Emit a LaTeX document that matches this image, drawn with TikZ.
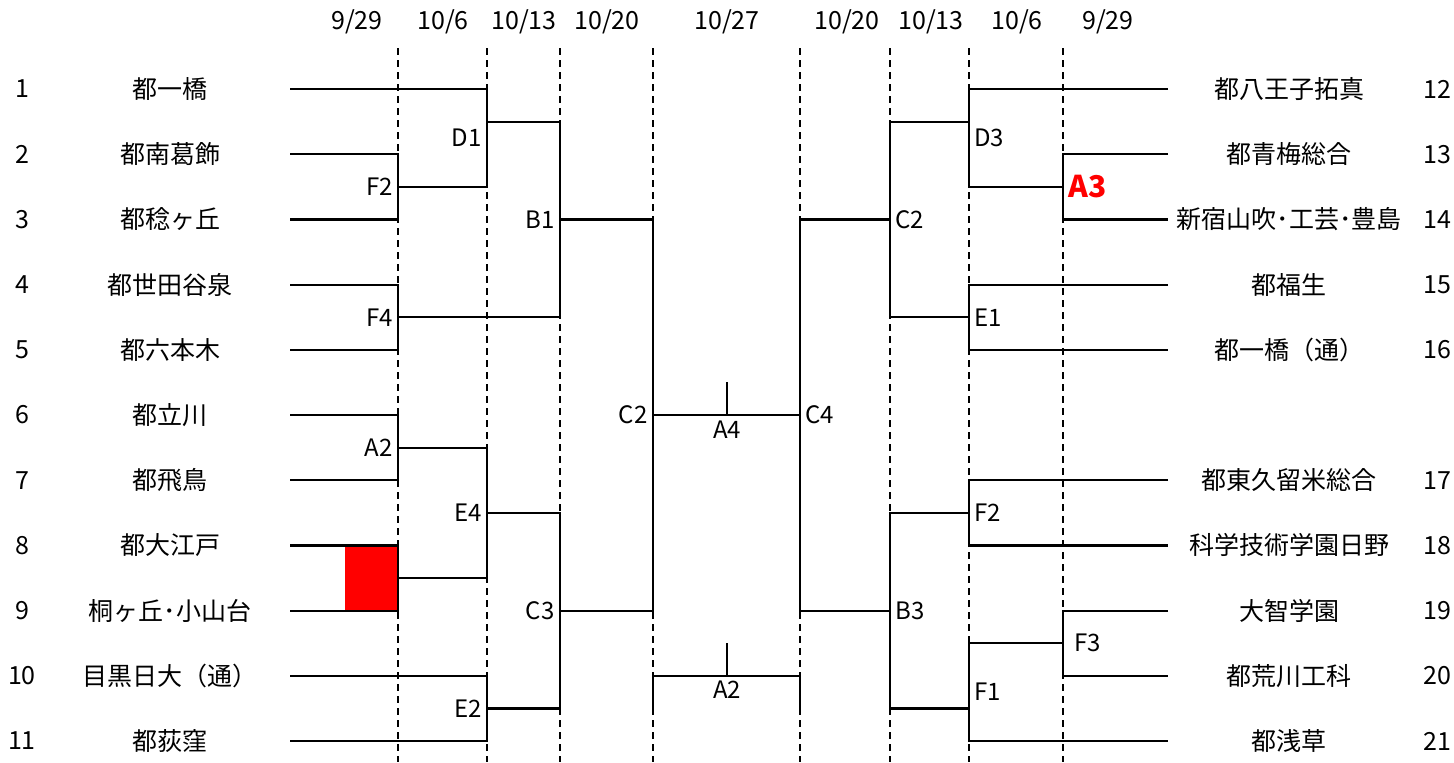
\documentclass[tikz,border=0pt]{standalone}
\usepackage{fontspec}
\setmainfont{Noto Sans CJK JP}
\usetikzlibrary{positioning}
\tikzset{
    x=0.5pt, y=-0.5pt, % one unit is one pixel of the sheet, y runs downwards
    bracket/.style={line width=1.1pt}, % the lines of the draw
    dayline/.style={line width=0.85pt, dash pattern=on 3.5pt off 2.5pt}, % dashed date lines
    team/.style={font=\fontsize{12.5}{14}\selectfont, inner sep=0pt}, % school names
    seed/.style={font=\fontsize{12.5}{14}\selectfont, inner sep=0pt}, % draw numbers
    day/.style={font=\fontsize{12.5}{14}\selectfont, inner sep=0pt}, % dates on top
    game/.style={font=\fontsize{12}{14}\selectfont, inner sep=2.5pt}, % game labels
    redbox/.style={fill=red, inner sep=0pt, minimum width=26.5pt, minimum height=32.6pt},
}

\begin{document}
\begin{tikzpicture}
\useasboundingbox (0,0) rectangle (1454,762);

% dates and dashed lines
\foreach \x/\d in {357/{9/29}, 443/{10/6}, 524/{10/13}, 607/{10/20}, 727/{10/27},
                   847/{10/20}, 931/{10/13}, 1017/{10/6}, 1108/{9/29}}
    \node[day] at (\x,22) {\d};
\foreach \x in {398,487,560,653,800,890,969,1063}
    \draw[dayline] (\x,48) -- (\x,762);

% left teams
\foreach \i/\name in {1/都一橋, 2/都南葛飾, 3/都稔ヶ丘, 4/都世田谷泉, 5/都六本木, 6/都立川,
                      7/都飛鳥, 8/都大江戸, 9/桐ヶ丘･小山台, 10/目黒日大（通）, 11/都荻窪} {
    \pgfmathsetmacro{\yy}{89+(\i-1)*65.2}
    \node[seed] (n\i) at (22,\yy) {\i};
    \node[team] (t\i) at (170,\yy) {\name};
    \coordinate (s\i) at (290,\yy);
}

% right teams
\foreach \i/\r/\name in {12/1/都八王子拓真, 13/2/都青梅総合, 14/3/新宿山吹･工芸･豊島, 15/4/都福生,
                         16/5/都一橋（通）, 17/7/都東久留米総合, 18/8/科学技術学園日野,
                         19/9/大智学園, 20/10/都荒川工科, 21/11/都浅草} {
    \pgfmathsetmacro{\yy}{89+(\r-1)*65.2}
    \node[seed] (n\i) at (1437,\yy) {\i};
    \node[team] (t\i) at (1289,\yy) {\name};
    \coordinate (e\r) at (1168,\yy);
}

\node[redbox] (box) at (371.5,578) {};

% left half
\coordinate (lF2) at (398,186.8);
\coordinate (lD1) at (487,121.6);
\coordinate (lF4) at (398,317.2);
\coordinate (lB1) at (560,219.4);
\coordinate (lA2) at (398,447.6);
\coordinate (lR8) at (398,578);
\coordinate (lE4) at (487,512.8);
\coordinate (lE2) at (487,708.4);
\coordinate (lC3) at (560,610.6);
\coordinate (lC2) at (653,415);
\draw[bracket] (s2) -| (lF2) |- (s3);
\draw[bracket] (s1) -| (lD1) |- (lF2);
\draw[bracket] (s4) -| (lF4) |- (s5);
\draw[bracket] (lD1) -| (lB1) |- (lF4);
\draw[bracket] (s6) -| (lA2) |- (s7);
\draw[bracket] (s8) -| (lR8) |- (s9);
\draw[bracket] (lA2) -| (lE4) |- (lR8);
\draw[bracket] (s10) -| (lE2) |- (s11);
\draw[bracket] (lE4) -| (lC3) |- (lE2);
\draw[bracket] (lB1) -| (lC2) |- (lC3);

% right half
\coordinate (rA3) at (1063,186.8);
\coordinate (rD3) at (969,121.6);
\coordinate (rE1) at (969,317.2);
\coordinate (rC2) at (890,219.4);
\coordinate (rF2) at (969,512.8);
\coordinate (rF3) at (1063,643.2);
\coordinate (rF1) at (969,708.4);
\coordinate (rB3) at (890,610.6);
\coordinate (rC4) at (800,415);
\draw[bracket] (e2) -| (rA3) |- (e3);
\draw[bracket] (e1) -| (rD3) |- (rA3);
\draw[bracket] (e4) -| (rE1) |- (e5);
\draw[bracket] (rD3) -| (rC2) |- (rE1);
\draw[bracket] (e7) -| (rF2) |- (e8);
\draw[bracket] (e9) -| (rF3) |- (e10);
\draw[bracket] (rF3) -| (rF1) |- (e11);
\draw[bracket] (rF2) -| (rB3) |- (rF1);
\draw[bracket] (rC2) -| (rC4) |- (rB3);

% final and third place
\coordinate (A4) at (727,415);
\coordinate (A4top) at (727,382.4);
\draw[bracket] (lC2) -- (rC4);
\draw[bracket] (A4top) -- (A4);
\coordinate (A2l) at (653,708.4);
\coordinate (A2r) at (800,708.4);
\coordinate (A2) at (727,675.8);
\coordinate (A2top) at (727,643.2);
\draw[bracket] (A2l) |- (A2) -| (A2r);
\draw[bracket] (A2top) -- (A2);

% game labels
\node[game, left] (gF2) at (398,186.8) {F2};
\node[game, left] (gD1) at (487,137.9) {D1};
\node[game, left] (gF4) at (398,317.2) {F4};
\node[game, left] (gB1) at (560,219.4) {B1};
\node[game, left] (gA2) at (398,447.6) {A2};
\node[game, left] (gE4) at (487,512.8) {E4};
\node[game, left] (gC3) at (560,610.6) {C3};
\node[game, left] (gE2) at (487,708.4) {E2};
\node[game, left] (gC2) at (653,415) {C2};
\node[game, right] (gC4) at (800,415) {C4};
\node[game, below] (gA4) at (A4) {A4};
\node[game, below] (gA2m) at (A2) {A2};
\node[game, right] (gD3) at (969,137.9) {D3};
\node[game, right, text=red, font=\fontsize{15}{17}\selectfont\bfseries] (gA3) at (1063,186.8) {A3};
\node[game, right] (grC2) at (890,219.4) {C2};
\node[game, right] (gE1) at (969,317.2) {E1};
\node[game, right] (grF2) at (969,512.8) {F2};
\node[game, right] (gB3) at (890,610.6) {B3};
\node[game, right, xshift=3pt] (gF3) at (1063,643.2) {F3};
\node[game, right] (gF1) at (969,692.1) {F1};
\end{tikzpicture}
\end{document}
